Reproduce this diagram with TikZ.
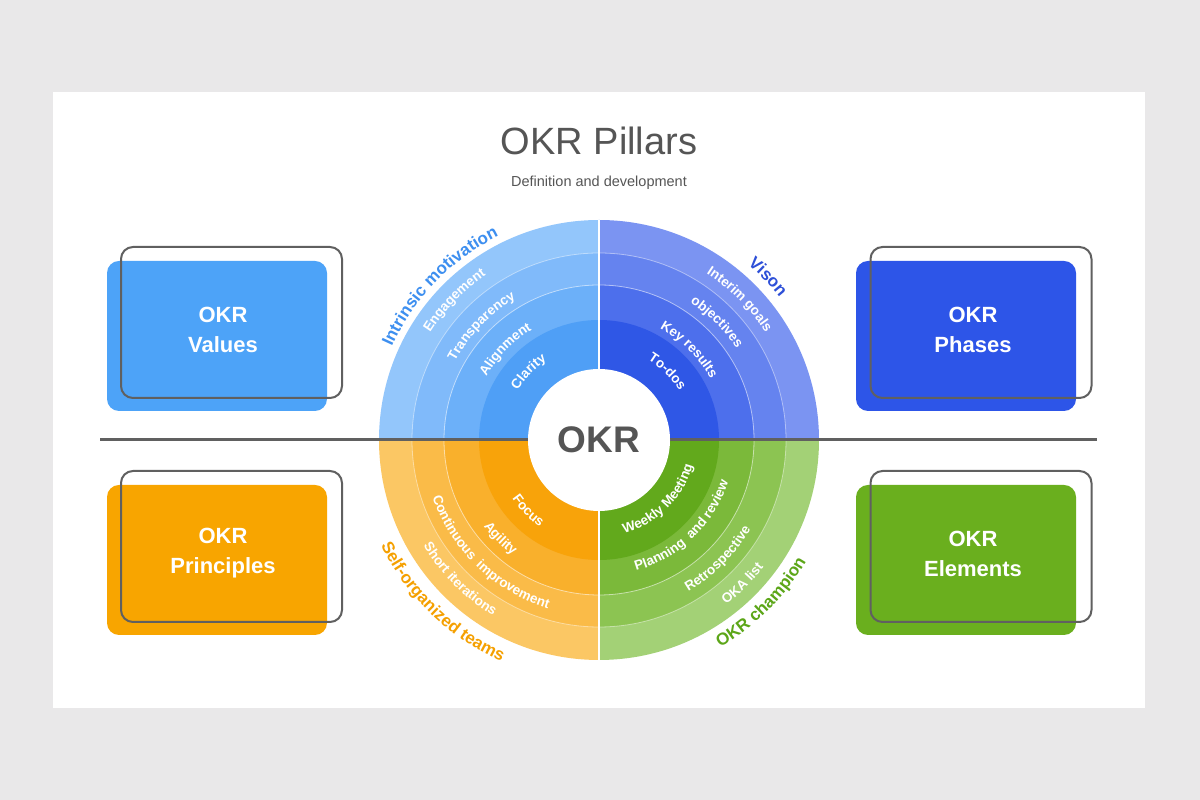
\documentclass[tikz,border=0pt]{standalone}
\usepackage{fontspec}
\setmainfont{Liberation Sans}
\usetikzlibrary{decorations.text}
\definecolor{bggray}{HTML}{E9E8E9}
\definecolor{txtgray}{HTML}{555555}
\definecolor{lnsgray}{HTML}{606060}
\definecolor{valblue}{HTML}{4DA3F8}
\definecolor{phblue}{HTML}{2D55E8}
\definecolor{prorange}{HTML}{F8A500}
\definecolor{elgreen}{HTML}{6AAF1E}
\definecolor{tlA}{HTML}{4F9FF6}\definecolor{tlB}{HTML}{6CB0F9}\definecolor{tlC}{HTML}{80BAFA}\definecolor{tlD}{HTML}{93C6FB}
\definecolor{trA}{HTML}{2F57E6}\definecolor{trB}{HTML}{4D6FEC}\definecolor{trC}{HTML}{6583EF}\definecolor{trD}{HTML}{7B94F2}
\definecolor{blA}{HTML}{F8A30A}\definecolor{blB}{HTML}{F9B02C}\definecolor{blC}{HTML}{FABB48}\definecolor{blD}{HTML}{FBC764}
\definecolor{brA}{HTML}{62A91C}\definecolor{brB}{HTML}{7BB93A}\definecolor{brC}{HTML}{8CC452}\definecolor{brD}{HTML}{A3D176}
\definecolor{lblblue}{HTML}{3D8FF0}
\definecolor{lbldblue}{HTML}{2E50D8}
\definecolor{lblorange}{HTML}{F5A000}
\definecolor{lblgreen}{HTML}{5CA618}
\newcommand{\okrquad}[6]{%
  \fill[#6] (0,0) -- (#1:220) arc[start angle=#1,end angle=#2,radius=220] -- cycle;
  \fill[#5] (0,0) -- (#1:187) arc[start angle=#1,end angle=#2,radius=187] -- cycle;
  \fill[#4] (0,0) -- (#1:155) arc[start angle=#1,end angle=#2,radius=155] -- cycle;
  \fill[#3] (0,0) -- (#1:120) arc[start angle=#1,end angle=#2,radius=120] -- cycle;}
\newcommand{\okrarc}[6]{%
  \path[decorate,decoration={text along path,text align=center,text color=#4,
    text={|\fontsize{#5}{#5}\selectfont\bfseries|#6}}]
    (#2:#1) arc[start angle=#2,end angle=#3,radius=#1];}
\tikzset{
  fillbox/.style={rectangle,rounded corners=12,minimum width=220,minimum height=150,inner sep=0pt,draw=none},
  outbox/.style={rectangle,rounded corners=12,minimum width=221,minimum height=151,inner sep=0pt,draw=lnsgray,line width=2},
  boxtxt/.style={text=white,font=\fontsize{22}{30}\selectfont\bfseries,align=center},
}
\begin{document}
\begin{tikzpicture}[x=1pt,y=1pt]
\useasboundingbox (0,0) rectangle (1200,800);
\fill[bggray] (0,0) rectangle (1200,800);
\fill[white] (53,92) rectangle (1145,708);

\node[text=txtgray,font=\fontsize{38}{40}\selectfont] (title) at (599,659) {OKR Pillars};
\node[text=txtgray,font=\fontsize{14.5}{16}\selectfont] (subtitle) at (599,617) {Definition and development};

% boxes
\node[fillbox,fill=valblue] (valfill) at (217,464) {};
\node[outbox] (valout) at (231.5,477.5) {};
\node[boxtxt] (valtxt) at (223,470) {OKR\\Values};

\node[fillbox,fill=phblue] (phfill) at (966,464) {};
\node[outbox] (phout) at (981,477.5) {};
\node[boxtxt] (phtxt) at (973,470) {OKR\\Phases};

\node[fillbox,fill=prorange] (prfill) at (217,240) {};
\node[outbox] (prout) at (231.5,253.5) {};
\node[boxtxt] (prtxt) at (223,246.5) {OKR\\Principles};

\node[fillbox,fill=elgreen] (elfill) at (966,240) {};
\node[outbox] (elout) at (981,253.5) {};
\node[boxtxt] (eltxt) at (973,246.5) {OKR\\Elements};

% rings
\begin{scope}[shift={(599,360)}]
  \okrquad{90}{180}{tlA}{tlB}{tlC}{tlD}
  \okrquad{0}{90}{trA}{trB}{trC}{trD}
  \okrquad{180}{270}{blA}{blB}{blC}{blD}
  \okrquad{270}{360}{brA}{brB}{brC}{brD}
  \draw[white,line width=0.8,opacity=0.55] (0,0) circle[radius=155];
  \draw[white,line width=0.8,opacity=0.45] (0,0) circle[radius=187];
  \draw[white,line width=1.5] (0,-220) -- (0,220);
\end{scope}

\coordinate (hl) at (100,360);
\coordinate (hr) at (1097,360);
\draw[lnsgray,line width=3] (hl) -- (hr);

\node[circle,fill=white,minimum size=142,inner sep=0pt,text=txtgray,font=\fontsize{37}{40}\selectfont\bfseries] (okr) at (599,360) {OKR};

\begin{scope}[shift={(599,360)}]
  % top-left
  \okrarc{95}{181}{91}{white}{13.5}{Clarity}
  \okrarc{129}{181}{91}{white}{13.5}{Alignment}
  \okrarc{164}{181}{91}{white}{13.5}{Transparency}
  \okrarc{200}{181}{91}{white}{13.5}{Engagement}
  \okrarc{227}{181}{91}{lblblue}{17}{Intrinsic motivation}
  % top-right
  \okrarc{94}{90}{0}{white}{13.5}{To-dos}
  \okrarc{127}{90}{0}{white}{13.5}{Key results}
  \okrarc{165}{90}{0}{white}{13.5}{objectives}
  \okrarc{198}{90}{0}{white}{13.5}{Interim goals}
  \okrarc{230}{92}{-4}{lbldblue}{17}{Vison}
  % bottom-left
  \okrarc{105}{180}{270}{white}{13.5}{Focus}
  \okrarc{144}{180}{270}{white}{13.5}{Agility}
  \okrarc{176}{180}{272}{white}{13.5}{Continuous {\hskip 3pt}improvement}
  \okrarc{205}{180}{270}{white}{13.5}{Short iterations}
  \okrarc{242}{180}{272}{lblorange}{17}{Self-organized teams}
  % bottom-right
  \okrarc{97}{270}{360}{white}{13.5}{Weekly Meeting}
  \okrarc{136}{270}{358}{white}{13.5}{Planning {\hskip 3pt}and review}
  \okrarc{176}{270}{360}{white}{13.5}{Retrospective}
  \okrarc{208}{270}{360}{white}{13.5}{OKA list}
  \okrarc{240}{270}{360}{lblgreen}{17}{OKR champion}
\end{scope}
\end{tikzpicture}
\end{document}
